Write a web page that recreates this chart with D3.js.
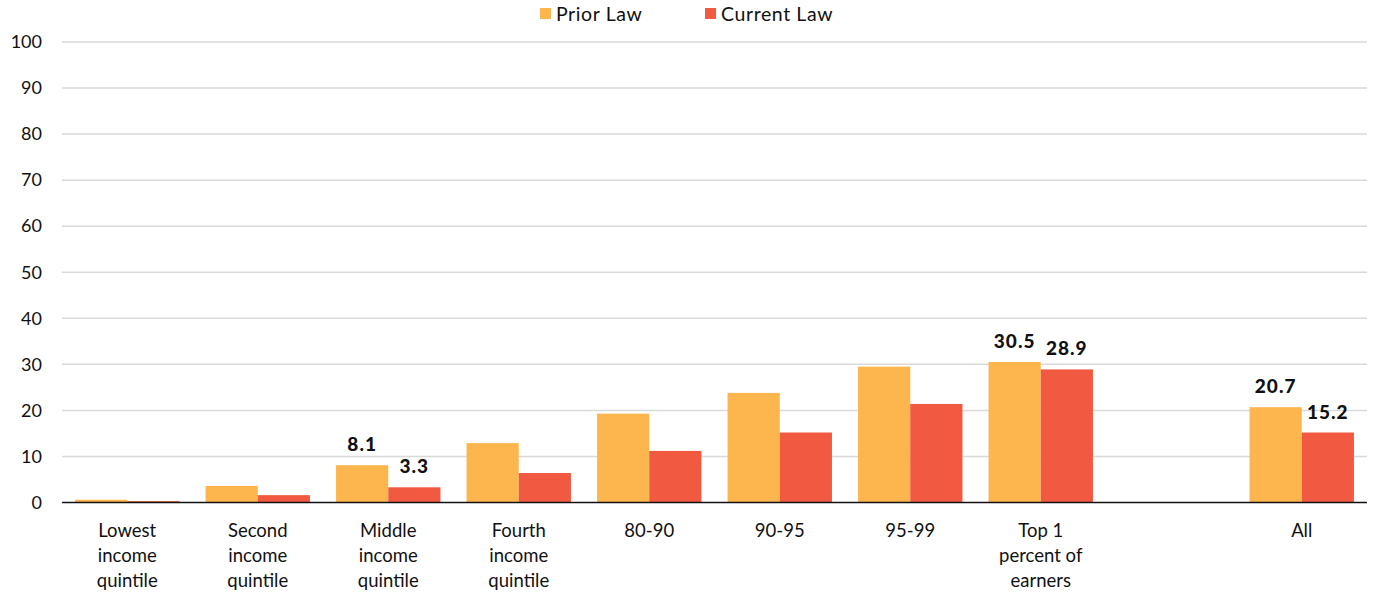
<!DOCTYPE html>
<html>
<head>
<meta charset="utf-8">
<script src="https://cdn.jsdelivr.net/npm/d3@7"></script>
<style>
  html, body { margin: 0; padding: 0; background: #fff; }
  svg { display: block; font-family: Lato, "Noto Sans", sans-serif; }
</style>
</head>
<body>
<svg id="chart" width="1374" height="594"></svg>
<script>
// Effective tax rate by income group, prior law vs current law
const categories = [
  "Lowest\nincome\nquintile",
  "Second\nincome\nquintile",
  "Middle\nincome\nquintile",
  "Fourth\nincome\nquintile",
  "80-90",
  "90-95",
  "95-99",
  "Top 1\npercent of\nearners",
  "All"
];
const priorLaw   = [0.6, 3.6, 8.1, 12.9, 19.3, 23.8, 29.5, 30.5, 20.7];
const currentLaw = [0.3, 1.6, 3.3, 6.4, 11.2, 15.2, 21.4, 28.9, 15.2];
// value labels shown only on these groups
const labelled = ["Middle\nincome\nquintile", "Top 1\npercent of\nearners", "All"];
const seriesNames = ["Prior Law", "Current Law"];
const yTicks = [0, 10, 20, 30, 40, 50, 60, 70, 80, 90, 100];

const colors = { "Prior Law": "#FDB64E", "Current Law": "#F15A40" };

const svg = d3.select("#chart");
const margin = { left: 62, right: 7, top: 42, bottom: 92 };
const W = 1374, H = 594;

// a blank slot separates the income groups from "All"
const slots = categories.slice(0, 8).concat(["__gap__"], categories.slice(8));

const x = d3.scaleBand()
  .domain(slots)
  .range([margin.left, W - margin.right])
  .paddingInner(0.2)
  .paddingOuter(0.1);

const x1 = d3.scaleBand()
  .domain(seriesNames)
  .range([0, x.bandwidth()]);

const y = d3.scaleLinear()
  .domain([0, 100])
  .range([H - margin.bottom + 0.5, margin.top]);

// gridlines
svg.append("g")
  .selectAll("line")
  .data(yTicks.filter(d => d > 0))
  .join("line")
  .attr("x1", margin.left)
  .attr("x2", W - margin.right)
  .attr("y1", d => y(d))
  .attr("y2", d => y(d))
  .attr("stroke", "#d9d9d9")
  .attr("stroke-width", 1.5);

// y axis labels
const yAxis = d3.axisLeft(y).tickValues(yTicks).tickSize(0).tickPadding(20);
const gy = svg.append("g")
  .attr("transform", `translate(${margin.left},0)`)
  .call(yAxis);
gy.select(".domain").remove();
gy.selectAll("text")
  .attr("font-size", 18)
  .attr("fill", "#111")
  .attr("font-family", "Lato, 'Noto Sans', sans-serif");

// bars
const rows = categories.map((c, i) => ({
  cat: c,
  vals: [
    { key: "Prior Law", v: priorLaw[i] },
    { key: "Current Law", v: currentLaw[i] }
  ]
}));

const groups = svg.append("g")
  .selectAll("g")
  .data(rows)
  .join("g")
  .attr("transform", d => `translate(${x(d.cat)},0)`);

groups.selectAll("rect")
  .data(d => d.vals)
  .join("rect")
  .attr("x", d => x1(d.key))
  .attr("width", x1.bandwidth())
  .attr("y", d => y(d.v))
  .attr("height", d => y(0) - y(d.v))
  .attr("fill", d => colors[d.key]);

// value labels
groups.filter(d => labelled.includes(d.cat))
  .selectAll("text")
  .data(d => d.vals)
  .join("text")
  .attr("x", d => x1(d.key) + x1.bandwidth() / 2)
  .attr("y", d => y(d.v) - 14)
  .attr("text-anchor", "middle")
  .attr("font-size", 19)
  .attr("font-weight", 900)
  .attr("letter-spacing", 1)
  .attr("fill", "#111")
  .text(d => d.v.toFixed(1));

// baseline axis
svg.append("line")
  .attr("x1", margin.left)
  .attr("x2", W - margin.right)
  .attr("y1", y(0))
  .attr("y2", y(0))
  .attr("stroke", "#111")
  .attr("stroke-width", 1.5);

// category labels, multi-line
const xl = svg.append("g");
categories.forEach(c => {
  const t = xl.append("text")
    .attr("x", x(c) + x.bandwidth() / 2)
    .attr("y", 537)
    .attr("text-anchor", "middle")
    .attr("font-size", 18.5)
    .attr("fill", "#111");
  c.split("\n").forEach((line, i) => {
    t.append("tspan")
      .attr("x", x(c) + x.bandwidth() / 2)
      .attr("dy", i === 0 ? 0 : 25)
      .text(line);
  });
});

// legend
const legendX = [540, 705];
const lg = svg.append("g");
seriesNames.forEach((s, i) => {
  lg.append("rect")
    .attr("x", legendX[i])
    .attr("y", 8)
    .attr("width", 11)
    .attr("height", 11)
    .attr("fill", colors[s]);
  lg.append("text")
    .attr("x", legendX[i] + 16)
    .attr("y", 21)
    .attr("font-size", 19.5)
    .attr("letter-spacing", 0.6)
    .attr("fill", "#111")
    .text(s);
});
</script>
</body>
</html>
